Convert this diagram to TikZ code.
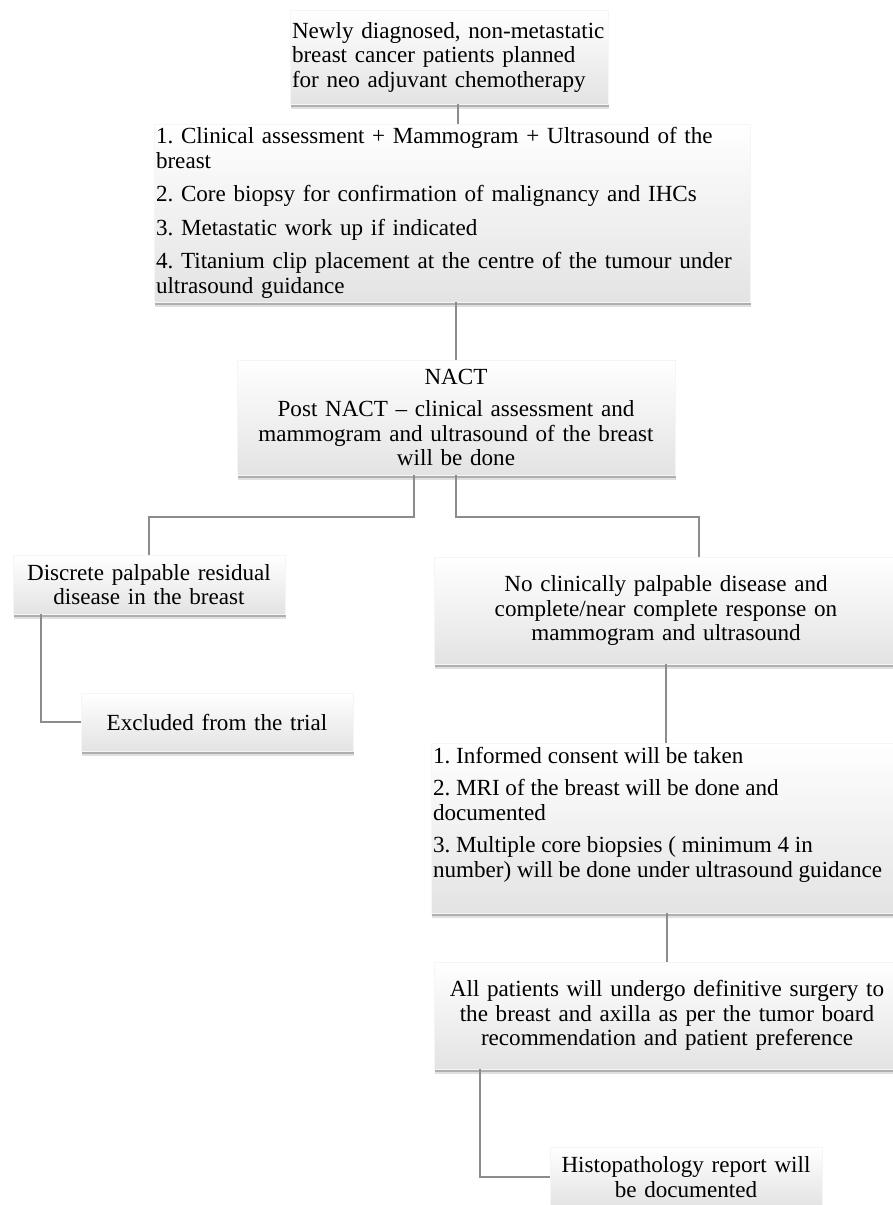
\documentclass[tikz,border=0pt]{standalone}
\usepackage{fontspec}
\setmainfont{Liberation Serif}
\usetikzlibrary{shadows}
\tikzset{
  boxbase/.style={inner sep=2pt, top color=white, middle color=white, bottom color=gray!22,
    draw=gray!8, line width=0.4pt,
    drop shadow={shadow xshift=1pt, shadow yshift=-4.5pt, fill=black, opacity=0.12},
    drop shadow={shadow xshift=0.5pt, shadow yshift=-2.5pt, fill=black, opacity=0.22},
    font=\fontsize{23.1}{24.5}\selectfont\frenchspacing},
  cbox/.style={boxbase, align=center},
  lbox/.style={boxbase, align=left},
  conn/.style={draw=black!45, line width=2pt}
}
\begin{document}
\begin{tikzpicture}[x=1pt,y=-1pt]
\useasboundingbox (0,0) rectangle (893,1205);

\node[lbox, text width=314pt, minimum height=94pt] (b1) at (449,57)
  {Newly diagnosed, non-metastatic\\breast cancer patients planned\\for neo adjuvant chemotherapy};

\node[lbox, text width=592pt, minimum height=178pt] (b2) at (452,213)
  {1. Clinical assessment + Mammogram + Ultrasound of the\\breast\\[9pt]2. Core biopsy for confirmation of malignancy and IHCs\\[9pt]3. Metastatic work up if indicated\\[9pt]4. Titanium clip placement at the centre of the tumour under\\ultrasound guidance};

\node[cbox, text width=434pt, minimum height=115pt] (b3) at (456,417.5)
  {NACT\\[8pt]Post NACT -- clinical assessment and\\mammogram and ultrasound of the breast\\will be done};

\node[cbox, text width=268pt, minimum height=59pt] (b4) at (149,584.5)
  {Discrete palpable residual\\disease in the breast};

\node[cbox, text width=268pt, minimum height=58pt] (b5) at (217,722)
  {Excluded from the trial};

\node[cbox, text width=460pt, minimum height=107pt] (b6) at (666,610.5)
  {No clinically palpable disease and\\complete/near complete response on\\mammogram and ultrasound};

\node[boxbase, inner sep=0pt] (b7) at (664,828)
  {\parbox[c][170pt][t]{466pt}{\raggedright\leftskip=2pt\vspace{4pt}%
  1. Informed consent will be taken\\[8pt]2. MRI of the breast will be done and\\documented\\[8pt]3. Multiple core biopsies ( minimum 4 in\\number) will be done under ultrasound guidance}};

\node[cbox, text width=462pt, minimum height=107pt] (b8) at (667,1015.5)
  {All patients will undergo definitive surgery to\\the breast and axilla as per the tumor board\\recommendation and patient preference};

\node[cbox, text width=268pt, minimum height=59pt] (b9) at (686,1177)
  {Histopathology report will\\be documented};

% connectors
\draw[conn] ([xshift=9pt]b1.south) -- ([xshift=9pt]b1.south |- b2.north);
\draw[conn] (b2.south -| b3.north) -- (b3.north);
\draw[conn] ([xshift=-42pt]b3.south) -- ++(0,42) -| (b4.north);
\draw[conn] (b3.south) -- ++(0,42) -| ([xshift=33pt]b6.north);
\draw[conn] ([xshift=-108pt]b4.south) |- (b5.west);
\draw[conn] (b6.south) -- (b6.south |- b7.north);
\draw[conn] (b7.south -| b8.north) -- (b8.north);
\draw[conn] ([xshift=-187pt]b8.south) |- (b9.west);
\end{tikzpicture}
\end{document}
